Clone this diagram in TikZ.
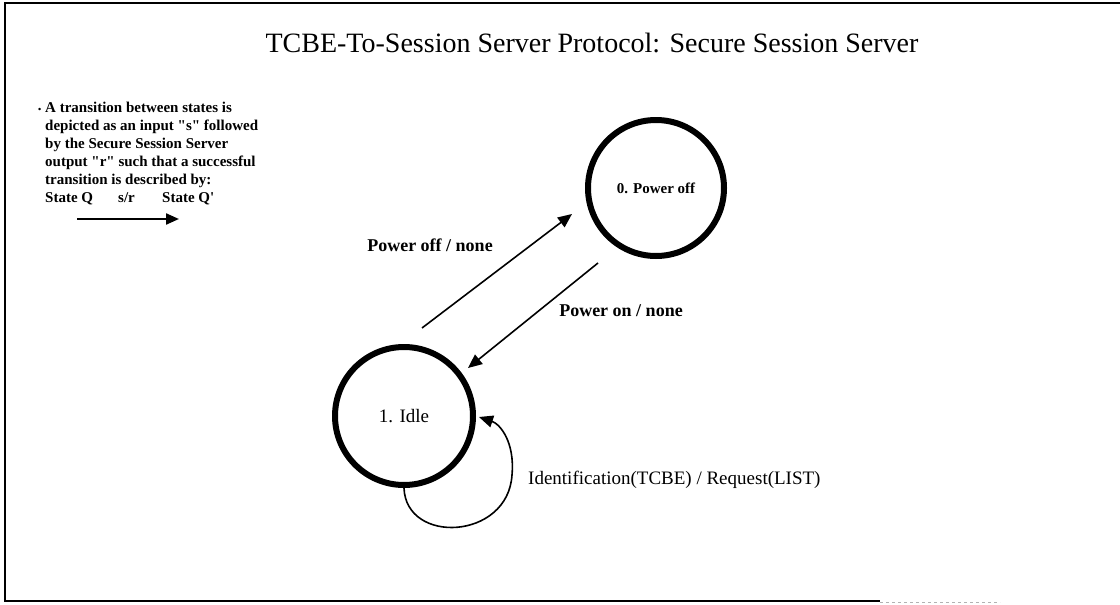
\documentclass[tikz,border=0pt]{standalone}
\usepackage{fontspec}
\setmainfont{Liberation Serif}[Ligatures=TeXOff]
\usetikzlibrary{arrows.meta,calc}
\begin{document}
\begin{tikzpicture}[x=1pt,y=-1pt,
  state/.style={circle,draw,line width=6pt,inner sep=0pt},
  arr/.style={line width=1.6pt,-{Triangle[length=14pt,width=12pt]}},
  notetext/.style={anchor=base west,inner sep=0pt,font=\fontsize{15}{18}\selectfont\bfseries},
  lbl/.style={inner sep=0pt,font=\fontsize{18}{20}\selectfont\bfseries},
  lblr/.style={inner sep=0pt,font=\fontsize{19}{21}\selectfont}]
\useasboundingbox[fill=white] (0,0) rectangle (1120,605);
% frame
\draw[line width=2pt] (1120,3) -- (5,3) -- (5,601) -- (880,601);
\draw[line width=1pt,gray!60,dashed] (880,602) -- (1000,602);
% title
\node[inner sep=0pt,font=\fontsize{28}{30}\selectfont] (title) at (592,43) {TCBE-To-Session Server Protocol: Secure Session Server};
% note
\node[notetext] (note1) at (45,112) {\llap{\fontsize{9}{9}\selectfont\textbullet\hspace{4pt}}A transition between states is};
\node[notetext] (note2) at (45,130) {depicted as an input "s" followed};
\node[notetext] (note3) at (45,148) {by the Secure Session Server};
\node[notetext] (note4) at (45,166) {output "r" such that a successful};
\node[notetext] (note5) at (45,184) {transition is described by:};
\node[notetext] (note6) at (45,202) {\makebox[73pt][l]{State Q}\makebox[44pt][l]{s/r}State Q'};
\coordinate (noteA) at (77,219);
\coordinate (noteB) at (179,219);
\draw[line width=2.2pt,-{Triangle[length=13pt,width=11pt]}] (noteA) -- (noteB);
% states
\node[state,minimum size=136pt,font=\fontsize{15}{17}\selectfont\bfseries] (n0) at (656,188) {0. Power off};
\node[state,minimum size=138pt,font=\fontsize{19}{21}\selectfont] (n1) at (404,416) {1. Idle};
% transitions
\draw[arr] ($(n1.center)+(18,-88)$) -- ($(n0.center)+(-84,26)$);
\draw[arr] ($(n0.center)+(-58,75)$) -- ($(n1.center)+(64,-48)$);
\draw[arr] (n1.south) .. controls (406,545) and (508,540) .. (512,475) .. controls (515,442) and (500,424) .. ($(n1.east)+(3,1)$);
% labels
\node[lbl] (l1) at (430,245) {Power off / none};
\node[lbl] (l2) at (621,311) {Power on / none};
\node[lblr,anchor=west] (l3) at (528,480) {Identification(TCBE) / Request(LIST)};
\end{tikzpicture}
\end{document}
